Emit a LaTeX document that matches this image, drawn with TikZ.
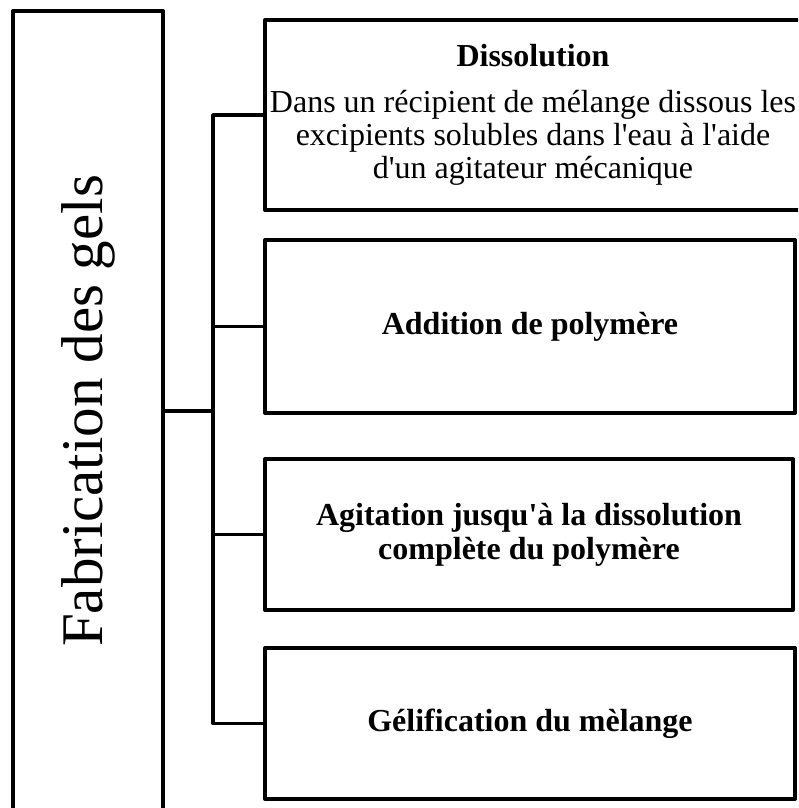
\documentclass[tikz,border=0pt]{standalone}
\usepackage{fontspec}
\setmainfont{Liberation Serif}
\usetikzlibrary{positioning}
\usetikzlibrary{calc}
\newcommand{\qt}{\textquotesingle}

\begin{document}
\begin{tikzpicture}[x=1pt,y=-1pt,line width=4pt,line join=round,
					font=\fontsize{32}{33}\selectfont]
					\tikzstyle{stage}=[draw,align=center,inner sep=0pt]
					\tikzstyle{title}=[draw,rotate=90,inner sep=0pt,font=\fontsize{59}{70}\selectfont]
					\tikzstyle{bus}=[line width=3.5pt]
					
					\useasboundingbox (0,0) rectangle (798,808);
					\clip (0,0) rectangle (798,808);
					
					\node[title,minimum width=800pt,minimum height=150pt] (fab) at (88,411) {Fabrication des gels};
					\node[stage,minimum width=536pt,minimum height=190pt] (S_1) at (533,115)
						{\textbf{Dissolution}\\[13pt]Dans un récipient de mélange dissous les\\excipients solubles dans l\qt eau à l\qt aide\\d\qt un agitateur mécanique};
					\node[stage,minimum width=530pt,minimum height=173pt] (S_2) at (530,326.5)
						{\textbf{Addition de polymère}};
					\node[stage,minimum width=528pt,minimum height=151pt] (S_3) at (529,534.5)
						{\textbf{Agitation jusqu\qt à la dissolution}\\[1pt]\textbf{complète du polymère}};
					\node[stage,minimum width=530pt,minimum height=151pt] (S_4) at (530,723.5)
						{\textbf{Gélification du mèlange}};
					
					\coordinate (hub) at (213,411);
					\draw[bus] (fab.south) -- (hub);
					\draw[bus] (S_1.west) -| (hub) |- (S_4.west);
					\draw[bus] (S_2.west) -- (S_2.west -| hub);
					\draw[bus] (S_3.west) -- (S_3.west -| hub);
\end{tikzpicture}
\end{document}
